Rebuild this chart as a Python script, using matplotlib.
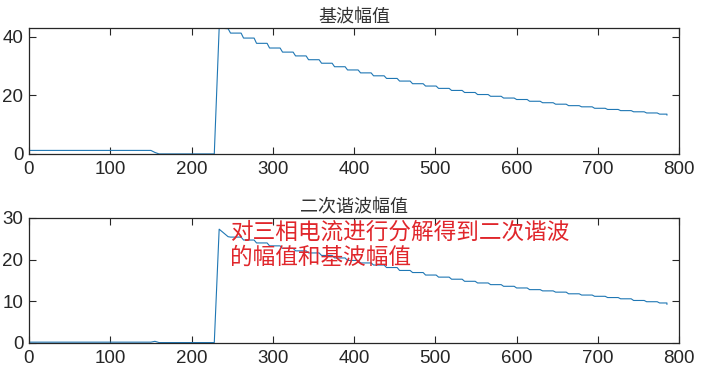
#!/usr/bin/env python3
"""
Fundamental / 2nd harmonic amplitude of the three-phase current.
"""

import numpy as np
import matplotlib
matplotlib.use('Agg')
import matplotlib.pyplot as plt

plt.rcParams['font.family'] = ['Liberation Sans', 'Noto Sans CJK SC', 'DejaVu Sans']

# before the fault: (sample, value)
pre_x = [0, 150, 155, 160, 228]
pre_fund = [1.2, 1.2, 0.5, 0.0, 0.0]
pre_harm = [0.2, 0.2, 0.4, 0.1, 0.1]

# jump at the fault
jump_x = [228, 234, 245]
jump_fund = [0.0, 43.0, 42.8]
jump_harm = [0.1, 27.3, 25.5]

# staircase after the fault (start of each step)
step_x = [245, 261, 277, 293, 309, 325, 341, 357, 373, 389, 405, 421,
          437, 453, 469, 485, 501, 517, 533, 549, 565, 581, 597, 613,
          629, 645, 661, 677, 693, 709, 725, 741, 757, 773, 785]
step_fund = [41.3, 39.6, 37.8, 36.2, 34.8, 33.5, 32.2, 31.0, 29.8, 28.7,
             27.7, 26.7, 25.8, 24.9, 24.0, 23.2, 22.4, 21.7, 21.0, 20.3,
             19.7, 19.1, 18.6, 18.0, 17.5, 17.0, 16.5, 16.1, 15.6, 15.2,
             14.8, 14.4, 14.0, 13.6, 13.3]
step_harm = [25.4, 24.7, 24.0, 23.3, 22.7, 22.1, 21.6, 21.0, 20.4, 19.8,
             19.2, 18.7, 18.1, 17.4, 16.9, 16.3, 15.8, 15.3, 14.8, 14.4,
             14.0, 13.6, 13.2, 12.8, 12.5, 12.2, 11.8, 11.5, 11.2, 10.9,
             10.6, 10.2, 9.9, 9.6, 9.3]

x_ticks = [0, 100, 200, 300, 400, 500, 600, 700, 800]
note = '对三相电流进行分解得到二次谐波\n的幅值和基波幅值'


def build_curve(vals_pre, vals_jump, vals_step):
    xs = list(pre_x) + jump_x[1:]
    ys = list(vals_pre) + vals_jump[1:]
    # each step holds its value, then slides to the next over ~3 samples
    for i in range(len(step_x) - 1):
        xs += [step_x[i] + 3, step_x[i + 1]]
        ys += [vals_step[i], vals_step[i]]
    xs.append(step_x[-1])
    ys.append(vals_step[-1])
    return xs, ys


def style_axes(ax, ymax, yticks, title):
    ax.set_xlim(0, 800)
    ax.set_ylim(0, ymax)
    ax.set_xticks(x_ticks)
    ax.set_yticks(yticks)
    ax.tick_params(direction='in', top=True, right=True, length=5,
                   width=0.8, labelsize=13.5, colors='#262626')
    ax.tick_params(axis='x', pad=5)
    ax.tick_params(axis='y', pad=4)
    for sp in ax.spines.values():
        sp.set_linewidth(0.9)
        sp.set_color('#262626')
    ax.set_title(title, family=['Noto Sans CJK SC'], fontsize=13,
                 color='#333333', pad=4, fontweight='light')


fig = plt.figure(figsize=(7.16, 3.70), dpi=100)
ax1 = fig.add_axes([0.0405, 0.584, 0.908, 0.340])
ax2 = fig.add_axes([0.0405, 0.073, 0.908, 0.338])

xf, yf = build_curve(pre_fund, jump_fund, step_fund)
xh, yh = build_curve(pre_harm, jump_harm, step_harm)

ax1.plot(xf, yf, color='#1f77b4', linewidth=0.8)
ax2.plot(xh, yh, color='#1f77b4', linewidth=0.8)

style_axes(ax1, 43, [0, 20, 40], '基波幅值')
style_axes(ax2, 30, [0, 10, 20, 30], '二次谐波幅值')

ax2.text(247, 29.4, note, family=['Noto Sans CJK SC'], fontsize=16.3,
         color='#e0262b', va='top', ha='left', linespacing=1.15,
         fontweight='medium')

fig.savefig('out.png', dpi=100)
